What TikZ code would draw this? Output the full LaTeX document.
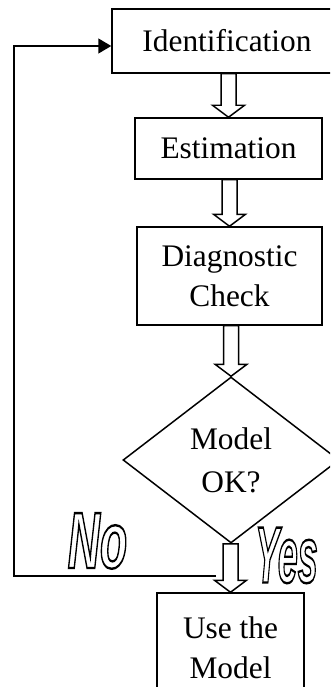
\documentclass[tikz,border=0pt]{standalone}
\usepackage{fontspec}
\setmainfont{Liberation Serif}
\newfontfamily\wordart{Liberation Sans}
\usepackage{graphicx}
\usetikzlibrary{shapes.geometric,calc,arrows.meta}
\newcommand{\outlined}[1]{\special{pdf:literal direct 1 Tr 2.4 w}#1\special{pdf:literal direct 0 Tr}}
\newcommand{\hollowarrow}[2]{%
  \draw let \p1=(#1), \p2=(#2) in
    (\x2-7.5bp,\y1) -- (\x2-7.5bp,\y2+12bp) -- (\x2-16bp,\y2+12bp) -- (\x2,\y2)
    -- (\x2+16bp,\y2+12bp) -- (\x2+7.5bp,\y2+12bp) -- (\x2+7.5bp,\y1) -- cycle;}
\begin{document}
\begin{tikzpicture}[x=1bp, y=-1bp, line width=1.5pt,
  stage/.style={draw, rectangle, inner sep=0pt, align=center, font=\fontsize{31.5}{40}\selectfont},
  decide/.style={draw, diamond, inner sep=0pt, align=center, font=\fontsize{31.5}{43}\selectfont},
  answer/.style={inner sep=0pt, font=\wordart\bfseries\itshape\fontsize{80}{80}\selectfont}]
\useasboundingbox (0,0) rectangle (330,687);
\clip (0,0) rectangle (330,687);
\node[stage, minimum width=230bp, minimum height=64bp] (ident) at (227,41) {Identification};
\node[stage, minimum width=187bp, minimum height=61bp] (estim) at (228.5,148.5) {Estimation};
\node[stage, minimum width=185bp, minimum height=98bp] (check) at (229.5,276) {Diagnostic\\Check};
\node[decide, minimum width=216bp, minimum height=166bp] (okq) at (231,460) {Model\\OK?};
\node[stage, minimum width=147bp, minimum height=110bp] (use) at (230.5,648) {Use the\\Model};
\node[answer] (no) at (97.5,541) {\scalebox{0.56}[1]{\outlined{No}}};
\node[answer] (yes) at (286.5,555.5) {\scalebox{0.45}[1]{\outlined{Yes}}};
\hollowarrow{ident.south}{estim.north}
\hollowarrow{estim.south}{check.north}
\hollowarrow{check.south}{okq.north}
\hollowarrow{okq.south}{use.north}
\coordinate (noend) at (216,576);
\coordinate (corner) at (14,46);
\draw[-{Triangle[length=13bp,width=15bp]}] (noend) -| (corner) -- (corner -| ident.west);
\end{tikzpicture}
\end{document}
